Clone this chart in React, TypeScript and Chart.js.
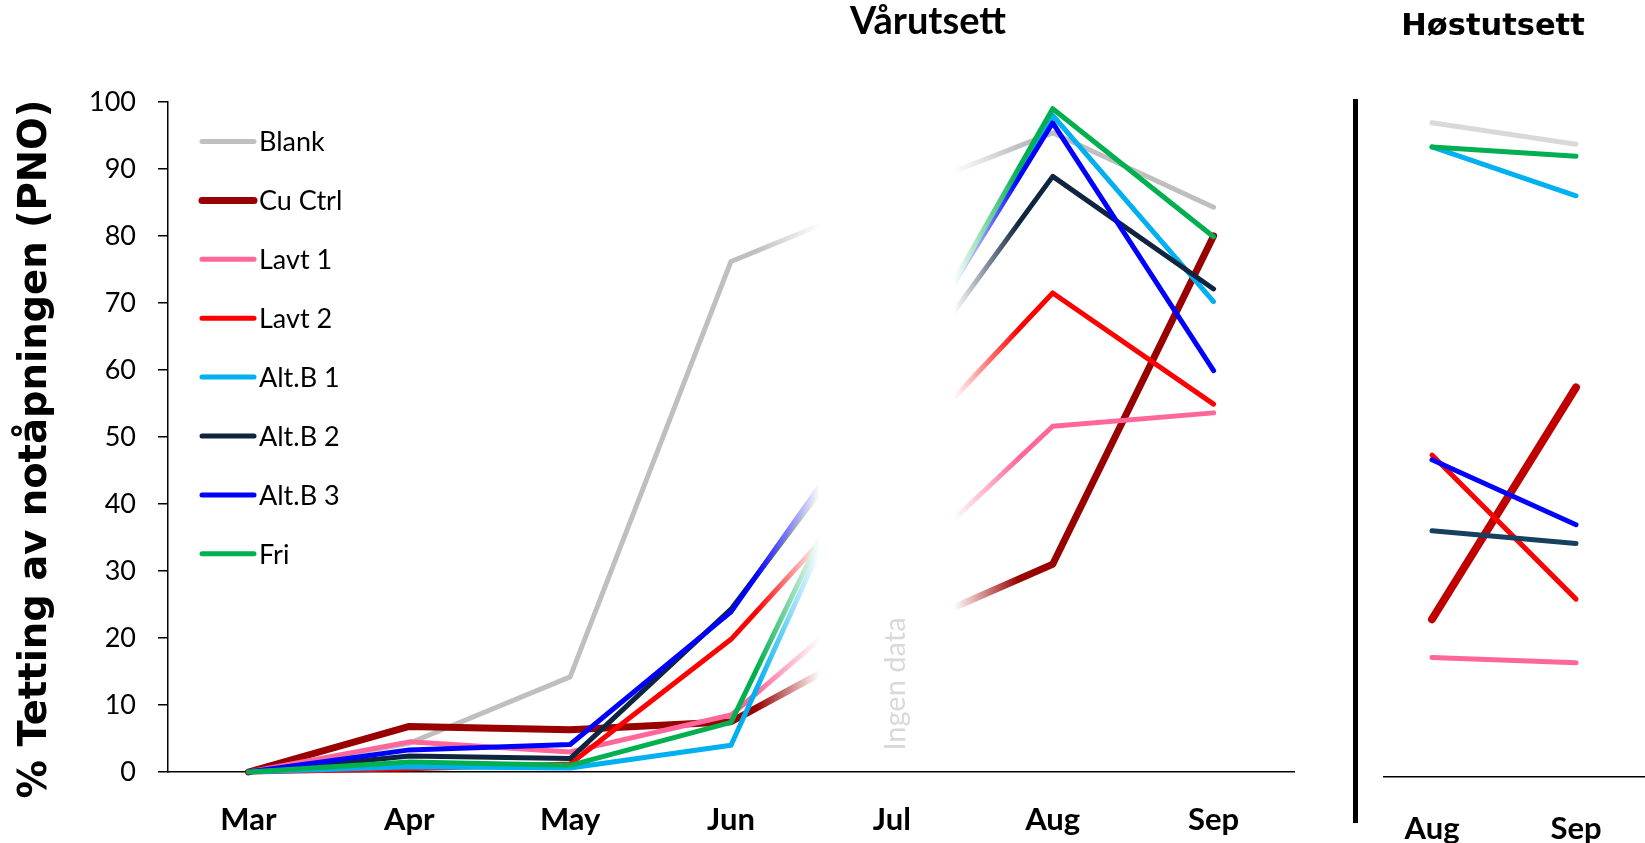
import React, { useEffect, useRef } from 'react';
import { Chart, registerables } from 'chart.js';

Chart.register(...registerables);

// ---------- data ----------
const springMonths = ['Mar', 'Apr', 'May', 'Jun', 'Jul', 'Aug', 'Sep'];
const autumnMonths = ['Aug', 'Sep'];
const seriesNames = ['Blank', 'Cu Ctrl', 'Lavt 1', 'Lavt 2', 'Alt.B 1', 'Alt.B 2', 'Alt.B 3', 'Fri'];

const springBlank = [0, 4.3, 14.2, 76.2, 86, 95.4, 84.3];
const springCuCtrl = [0, 6.8, 6.3, 7.5, 20.5, 31, 80];
const springLavt1 = [0, 4.5, 3.0, 8.5, 29, 51.6, 53.6];
const springLavt2 = [0, 0.5, 1.2, 19.8, 46, 71.5, 54.9];
const springAltB1 = [0, 0.8, 0.6, 4.0, 57, 98, 70.2];
const springAltB2 = [0, 2.4, 2.0, 24.3, 56, 88.9, 72.1];
const springAltB3 = [0, 3.3, 4.1, 23.9, 58, 96.9, 59.9];
const springFri = [0, 1.5, 1.0, 7.4, 57, 99, 79.9];

const autumnBlank = [96.9, 93.7];
const autumnCuCtrl = [22.8, 57.4];
const autumnLavt1 = [17.1, 16.3];
const autumnLavt2 = [47.3, 25.8];
const autumnAltB1 = [93.3, 86.0];
const autumnAltB2 = [36.0, 34.1];
const autumnAltB3 = [46.6, 36.9];
const autumnFri = [93.3, 91.9];

const yTicks = [0, 10, 20, 30, 40, 50, 60, 70, 80, 90, 100];

const springSeries = [springBlank, springCuCtrl, springLavt1, springLavt2, springAltB1, springAltB2, springAltB3, springFri];
const autumnSeries = [autumnBlank, autumnCuCtrl, autumnLavt1, autumnLavt2, autumnAltB1, autumnAltB2, autumnAltB3, autumnFri];

// ---------- styles ----------
const springColors = ['#BFBFBF', '#990000', '#FF6699', '#FF0000', '#00B0F0', '#0F243E', '#0000FF', '#00B050'];
const springWidths = [5, 7, 5, 5, 5, 5, 5, 5];
const autumnColors = ['#D9D9D9', '#C00000', '#FF6699', '#FF0000', '#00B0F0', '#17405F', '#0000FF', '#00B050'];
const autumnWidths = [5, 8, 5, 5, 5, 5, 5, 5];

const LEFT_W = 1320;
const RIGHT_W = 325;
const H = 843;

const springPlugin = {
  id: 'springDecor',
  afterDatasetsDraw(chart: any) {
    const ctx = chart.ctx;
    const xs = chart.scales.x;
    const jul = xs.getPixelForValue(4);
    const x0 = jul - 136, x1 = jul - 72, x2 = jul + 62, x3 = jul + 127;
    const top = chart.chartArea.top - 10;
    const bottom = chart.chartArea.bottom - 6;
    ctx.save();
    const g = ctx.createLinearGradient(x0, 0, x3, 0);
    g.addColorStop(0, 'rgba(255,255,255,0)');
    g.addColorStop((x1 - x0) / (x3 - x0), 'rgba(255,255,255,1)');
    g.addColorStop((x2 - x0) / (x3 - x0), 'rgba(255,255,255,1)');
    g.addColorStop(1, 'rgba(255,255,255,0)');
    ctx.fillStyle = g;
    ctx.fillRect(x0, top, x3 - x0, bottom - top);
    // "Ingen data"
    ctx.translate(jul + 4, 684);
    ctx.rotate(-Math.PI / 2);
    ctx.fillStyle = '#D9D9D9';
    ctx.font = '29px Lato';
    ctx.textAlign = 'center';
    ctx.textBaseline = 'middle';
    ctx.fillText('Ingen data', 0, 0);
    ctx.restore();
  },
  afterDraw(chart: any) {
    const ctx = chart.ctx;
    ctx.save();
    // legend
    seriesNames.forEach((name, i) => {
      const y = 141.5 + i * 58.9;
      ctx.beginPath();
      ctx.strokeStyle = springColors[i];
      ctx.lineWidth = springWidths[i];
      ctx.lineCap = 'round';
      ctx.moveTo(202, y);
      ctx.lineTo(254, y);
      ctx.stroke();
      ctx.fillStyle = '#000';
      ctx.font = '27px Lato';
      ctx.textAlign = 'left';
      ctx.textBaseline = 'middle';
      ctx.fillText(name, 259, y + 1);
    });
    // title
    ctx.fillStyle = '#000';
    ctx.font = 'bold 38px Lato';
    ctx.textAlign = 'center';
    ctx.textBaseline = 'alphabetic';
    ctx.fillText('Vårutsett', 928, 34);
    // y axis title
    ctx.translate(36, 449);
    ctx.rotate(-Math.PI / 2);
    ctx.font = 'bold 38.5px "DejaVu Sans"';
    ctx.textAlign = 'center';
    ctx.textBaseline = 'middle';
    ctx.fillText('% Tetting av notåpningen (PNO)', 0, 0);
    ctx.restore();
  },
};

const autumnPlugin = {
  id: 'autumnDecor',
  afterDraw(chart: any) {
    const ctx = chart.ctx;
    ctx.save();
    ctx.fillStyle = '#000';
    ctx.fillRect(33, 99, 5, 724);
    ctx.fillRect(63, 776, RIGHT_W - 63, 1.5);
    ctx.font = 'bold 30.5px "DejaVu Sans"';
    ctx.textAlign = 'center';
    ctx.textBaseline = 'alphabetic';
    ctx.fillText('Høstutsett', 173, 35);
    ctx.restore();
  },
};

function makeDatasets(series: number[][], colors: string[], widths: number[]) {
  return series.map((data, i) => ({
    label: seriesNames[i],
    data,
    borderColor: colors[i],
    backgroundColor: colors[i],
    borderWidth: widths[i],
    pointRadius: 0,
    tension: 0,
    fill: false,
    clip: false as any,
    borderCapStyle: 'round' as const,
    borderJoinStyle: 'round' as const,
    order: series.length - 1 - i,
  }));
}

export default function App() {
  const leftRef = useRef<HTMLCanvasElement | null>(null);
  const rightRef = useRef<HTMLCanvasElement | null>(null);

  useEffect(() => {
    const left = new Chart(leftRef.current as HTMLCanvasElement, {
      type: 'line',
      data: { labels: springMonths, datasets: makeDatasets(springSeries, springColors, springWidths) },
      options: {
        responsive: false,
        animation: false,
        devicePixelRatio: 1,
        layout: { padding: { left: 0, top: 102, right: 26, bottom: 0 } },
        plugins: { legend: { display: false }, tooltip: { enabled: false }, title: { display: false } },
        scales: {
          x: {
            type: 'category',
            offset: true,
            grid: { display: true, drawOnChartArea: false, drawTicks: false },
            border: { display: true, color: '#000', width: 1.5 },
            ticks: { color: '#000', font: { family: 'Lato', weight: 'bold', size: 31 }, padding: 29, maxRotation: 0, autoSkip: false },
            afterFit: (s: any) => { s.height = 71; },
          },
          y: {
            min: 0,
            max: 100,
            afterBuildTicks: (s: any) => { s.ticks = yTicks.map((v) => ({ value: v })); },
            ticks: { color: '#000', font: { family: 'Lato', size: 27 }, padding: 22 },
            grid: { drawOnChartArea: false, drawTicks: true, tickLength: 10, color: '#000', lineWidth: 1.5 },
            border: { display: true, color: '#000', width: 1.5 },
            afterFit: (s: any) => { s.width = 168; },
          },
        },
      } as any,
      plugins: [springPlugin],
    });

    const right = new Chart(rightRef.current as HTMLCanvasElement, {
      type: 'line',
      data: { labels: autumnMonths, datasets: makeDatasets(autumnSeries, autumnColors, autumnWidths) },
      options: {
        responsive: false,
        animation: false,
        devicePixelRatio: 1,
        layout: { padding: { left: 112, top: 102, right: 69, bottom: 0 } },
        plugins: { legend: { display: false }, tooltip: { enabled: false }, title: { display: false } },
        scales: {
          x: {
            type: 'category',
            offset: false,
            grid: { display: false },
            border: { display: false },
            ticks: { color: '#000', font: { family: 'Lato', weight: 'bold', size: 31 }, padding: 30, maxRotation: 0, autoSkip: false },
            afterFit: (s: any) => { s.height = 71; },
          },
          y: { display: false, min: 0, max: 100 },
        },
      } as any,
      plugins: [autumnPlugin],
    });

    return () => {
      left.destroy();
      right.destroy();
    };
  }, []);

  return (
    <div style={{ position: 'fixed', left: 0, top: 0, width: LEFT_W + RIGHT_W, height: H, background: '#fff', overflow: 'hidden' }}>
      <canvas ref={leftRef} width={LEFT_W} height={H} style={{ position: 'absolute', left: 0, top: 0 }} />
      <canvas ref={rightRef} width={RIGHT_W} height={H} style={{ position: 'absolute', left: LEFT_W, top: 0 }} />
    </div>
  );
}
